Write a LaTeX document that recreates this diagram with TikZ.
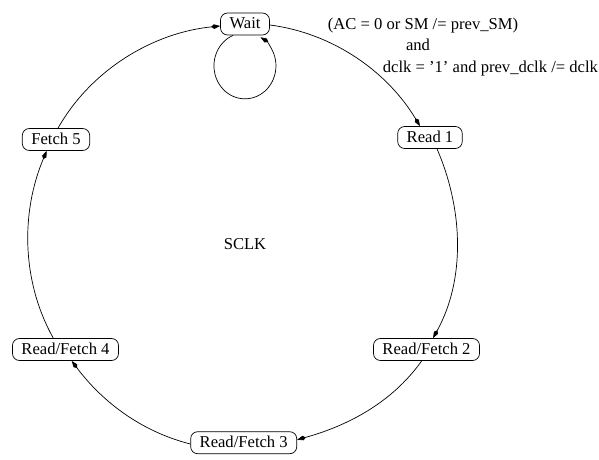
\documentclass[tikz,border=0pt]{standalone}
\usepackage{fontspec}
\setmainfont{Liberation Serif}
\usetikzlibrary{arrows.meta}
\begin{document}
\begin{tikzpicture}[x=1pt,y=1pt,
  state/.style={draw, rounded corners=7pt, fill=white, line width=0.7pt,
    minimum height=22pt, inner xsep=9pt, inner ysep=0pt,
    text height=11.8pt, text depth=2.2pt, font=\fontsize{16.6}{20}\selectfont},
  lbl/.style={inner sep=0pt, font=\fontsize{16.6}{20}\selectfont},
  conn/.style={line width=0.7pt, -{Kite[length=9pt,width=4.6pt,inset=2.8pt]}, looseness=0.9}]
\useasboundingbox (0,0) rectangle (599,459);

\node[state] (wait) at (245,435) {Wait};
\node[state] (read1) at (430,321.5) {Read 1};
\node[state] (rf2) at (426.5,109.5) {Read/Fetch 2};
\node[state] (rf3) at (243.7,16.3) {Read/Fetch 3};
\node[state] (rf4) at (65.5,109.5) {Read/Fetch 4};
\node[state] (f5) at (56,319.5) {Fetch 5};

\node[lbl, anchor=base] (sclk) at (245,210) {SCLK};

\node[lbl, anchor=base west] (cond1) at (327.7,429) {(AC = 0 or SM /= prev\_SM)};
\node[lbl, anchor=base] (cond2) at (418,408) {and};
\node[lbl, anchor=base west] (cond3) at (382.7,387) {dclk = ’1’ and prev\_dclk /= dclk};

\draw[conn] ([xshift=2pt]f5.north) to[out=60.4,in=185.7] ([yshift=-2pt]wait.west);
\draw[conn] ([yshift=-1pt]wait.east) to[out=-7.3,in=120.9] ([xshift=-10pt]read1.north);
\draw[conn] ([xshift=7pt]read1.south) to[out=-66.6,in=61.1] ([xshift=6.5pt]rf2.north);
\draw[conn] ([xshift=-4.8pt]rf2.south) to[out=-125.4,in=15.4] ([yshift=3pt]rf3.east);
\draw[conn] ([yshift=-1.3pt]rf3.west) to[out=165.7,in=-53.2] ([xshift=6.2pt]rf4.south);
\draw[conn] ([xshift=-12.2pt]rf4.north) to[out=119.2,in=-112.9] ([xshift=-9.3pt]f5.south);

\draw[conn] ([xshift=-11.9pt]wait.south) arc[start angle=112.5, end angle=420, x radius=31, y radius=33];
\end{tikzpicture}
\end{document}
